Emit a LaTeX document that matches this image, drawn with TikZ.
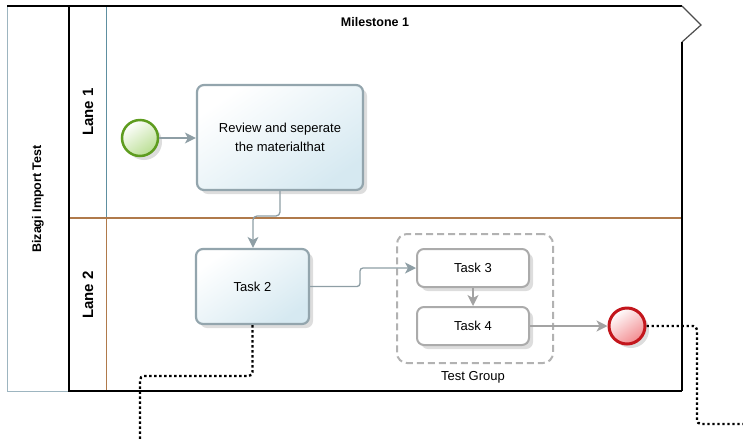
\documentclass[tikz,border=0pt]{standalone}
\usepackage{fontspec}
\setmainfont{Liberation Sans}
\usetikzlibrary{arrows.meta,shadows}
\definecolor{taskborder}{HTML}{93A5AD}
\definecolor{taskfill}{HTML}{D6E9F1}
\definecolor{conn}{HTML}{8E9EA5}
\definecolor{greyconn}{HTML}{A3A3A3}
\definecolor{startc}{HTML}{5E9C1F}
\definecolor{startf}{HTML}{B9DE92}
\definecolor{endc}{HTML}{C3161C}
\definecolor{endf}{HTML}{F28A8E}
\definecolor{laneA}{HTML}{5E8FA0}
\definecolor{laneB}{HTML}{B07A4B}
\definecolor{poolbox}{HTML}{9DB5C0}
\tikzset{
  softshadow/.style={drop shadow={shadow xshift=4pt,shadow yshift=-4pt,opacity=0.22,fill=black!60}},
  bluetask/.style={draw=taskborder,line width=2.2pt,rounded corners=7pt,
    top color=white,bottom color=taskfill,shading angle=35,softshadow,
    font=\fontsize{13}{19}\selectfont,align=center,inner sep=0pt},
  whitetask/.style={draw=black!33,line width=2pt,rounded corners=7pt,fill=white,
    softshadow,font=\fontsize{13}{16}\selectfont,inner sep=0pt},
  flow/.style={draw=conn,line width=1.3pt,-{Stealth[length=11pt,width=11pt,inset=3pt]}},
  gflow/.style={draw=greyconn,line width=1.3pt,-{Stealth[length=11pt,width=11pt,inset=3pt]}},
  assoc/.style={draw=black,line width=2.4pt,dash pattern=on 2.4pt off 2.6pt,rounded corners=4pt},
  lanelabel/.style={rotate=90,font=\bfseries\fontsize{15}{18}\selectfont},
}
\begin{document}
\begin{tikzpicture}[x=1pt,y=-1pt]
\useasboundingbox (0,0) rectangle (743,440);
% pool label box
\draw[draw=poolbox,line width=1pt] (7,6) rectangle (69,391);
\node[lanelabel,font=\bfseries\fontsize{12.5}{15}\selectfont] (pool) at (38,199) {Bizagi Import Test};
% lanes column lines
\draw[laneA,line width=1pt] (106,6) -- (106,218);
\draw[laneB,line width=1pt] (106,218) -- (106,391);
\draw[laneB,line width=1.2pt] (69,218) -- (682,218);
% milestone / pool outline
\draw[black,line width=1.3pt] (7,6) -- (682,6);
\draw[black!70,line width=1.2pt] (682,6) -- (701,25) -- (682,42);
\draw[black,line width=1.3pt] (682,42) -- (682,391);
\draw[black,line width=1.3pt] (69,6) -- (69,391) -- (682,391);
\node[font=\bfseries\fontsize{12.5}{15}\selectfont] (ms) at (375,22) {Milestone 1};
\node[lanelabel] (l1) at (88,112) {Lane 1};
\node[lanelabel] (l2) at (88,295) {Lane 2};
% group
\node[draw=black!30,line width=2pt,dash pattern=on 7pt off 4pt,rounded corners=10pt,
  minimum width=156pt,minimum height=129pt] (grp) at (475,298.5) {};
\node[font=\fontsize{13}{16}\selectfont] (grplabel) at (473,377) {Test Group};
% events
\node[circle,draw=startc,line width=2.5pt,minimum size=36pt,inner sep=0pt,
  top color=white,bottom color=startf,shading angle=35,softshadow] (start) at (140,138) {};
\node[circle,draw=endc,line width=3pt,minimum size=36pt,inner sep=0pt,
  top color=white,bottom color=endf,shading angle=35,softshadow] (end) at (627,326) {};
% tasks
\node[bluetask,minimum width=166pt,minimum height=105pt] (review) at (280,137.5)
  {Review and seperate\\the materialthat};
\node[bluetask,minimum width=113pt,minimum height=75pt] (task2) at (252.5,286.5) {Task 2};
\node[whitetask,minimum width=112pt,minimum height=38pt] (task3) at (473,268) {Task 3};
\node[whitetask,minimum width=112pt,minimum height=38pt] (task4) at (473,326) {Task 4};
% connectors
\draw[flow] (start.east) -- (review.west |- start.east);
\draw[flow,rounded corners=4pt] (review.south) -- (280,216) -- (253,216) -- (task2.north -| 253,0);
\draw[flow,rounded corners=3pt] (task2.east) -- (360,286.5) -- (360,268) -- (task3.west);
\draw[gflow] (task3.south) -- (task4.north);
\draw[gflow] (task4.east) -- (end.west);
% associations
\coordinate (free1) at (140,440);
\coordinate (free2) at (743,424);
\draw[assoc] (task2.south) -- (252.5,376) -- (140,376) -- (free1);
\draw[assoc] (end.east) -- (697,326) -- (697,424) -- (free2);
\end{tikzpicture}
\end{document}
